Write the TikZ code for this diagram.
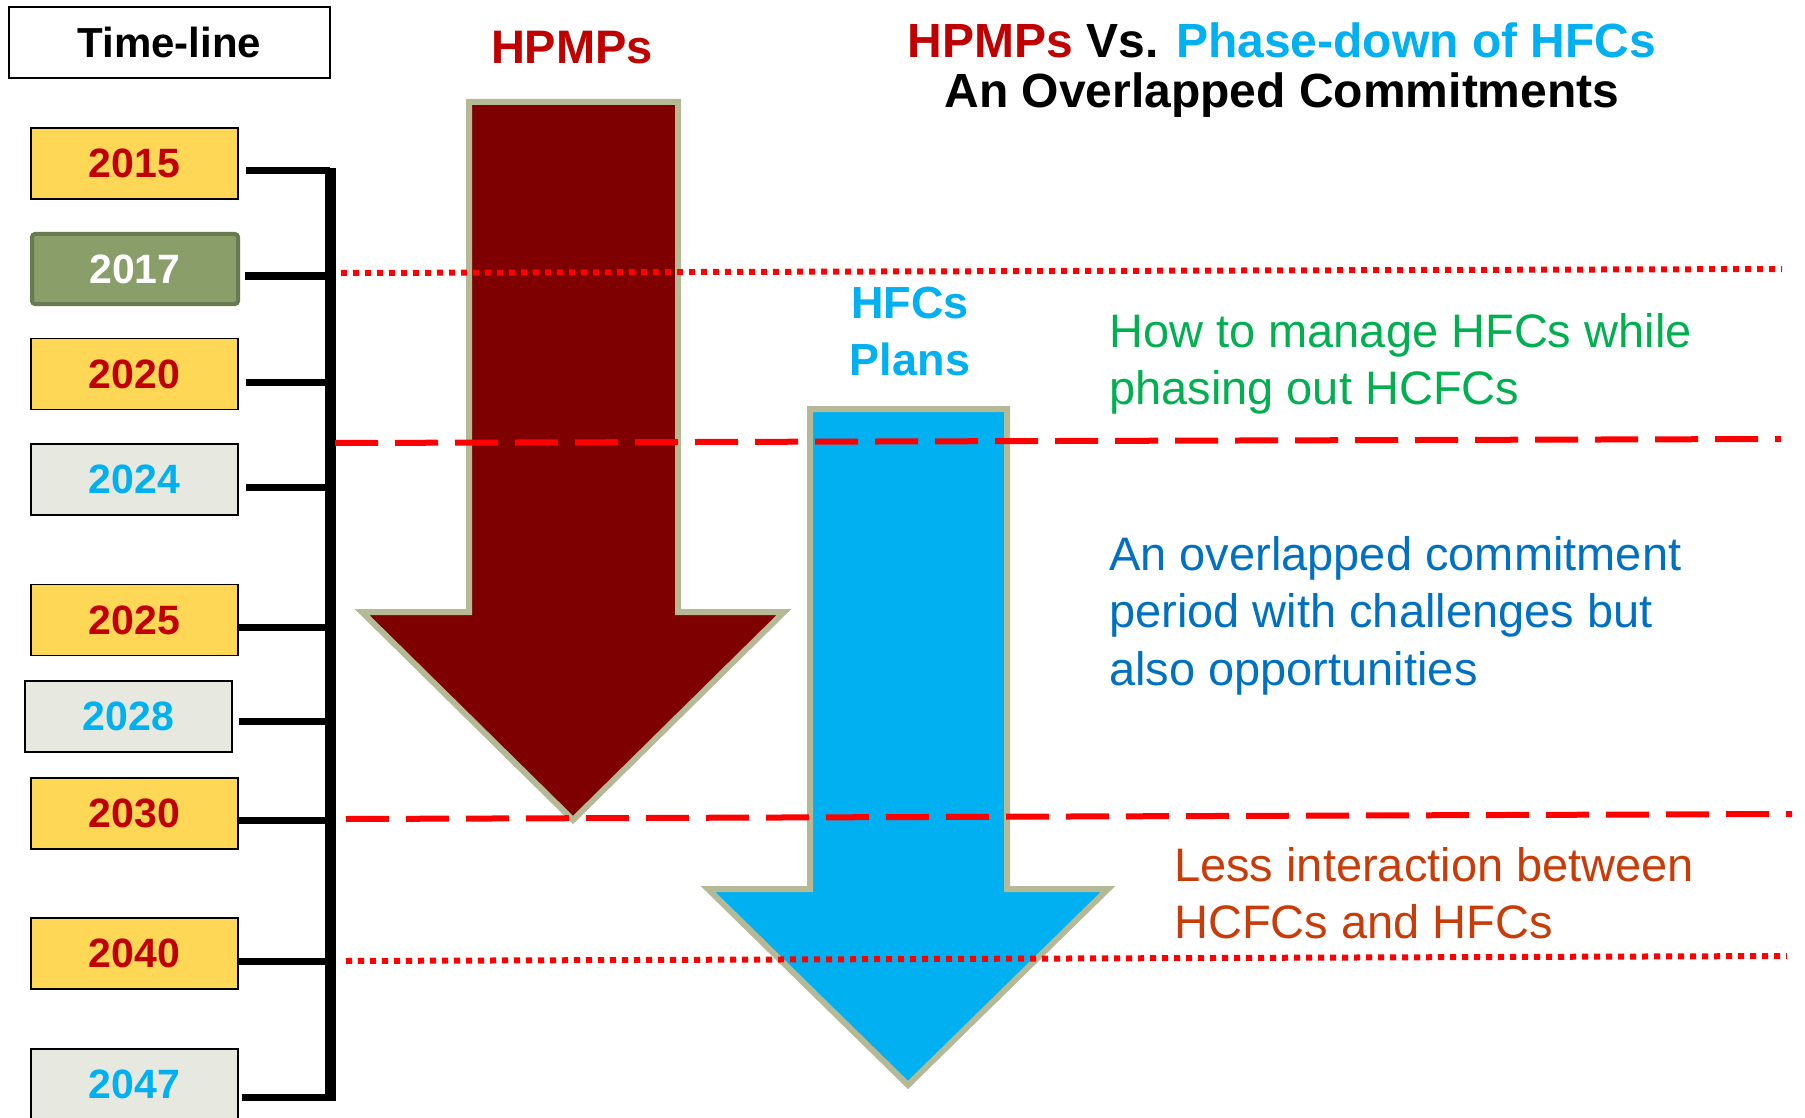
\documentclass[tikz,border=0pt]{standalone}
\usepackage{fontspec}
\setmainfont{Liberation Sans}
\usepackage{tikz}
\usetikzlibrary{calc}
\definecolor{yeargold}{RGB}{255,215,87}
\definecolor{yearred}{RGB}{192,0,0}
\definecolor{yeargrey}{RGB}{231,233,224}
\definecolor{hfcblue}{RGB}{0,176,240}
\definecolor{kigalifill}{RGB}{138,158,106}
\definecolor{kigaliedge}{RGB}{104,122,80}
\definecolor{hpmpfill}{RGB}{127,0,0}
\definecolor{arrowedge}{RGB}{182,185,150}
\definecolor{notegreen}{RGB}{0,176,80}
\definecolor{noteblue}{RGB}{0,112,192}
\definecolor{noteorange}{RGB}{200,60,10}
\tikzset{
  yearbox/.style={draw=black, line width=1.5pt, minimum width=207pt, minimum height=71pt,
    inner sep=0pt, font=\fontsize{41}{49}\selectfont\bfseries},
  hpmp/.style={fill=yeargold, text=yearred},
  hfc/.style={fill=yeargrey, text=hfcblue},
  kigali/.style={fill=kigalifill, draw=kigaliedge, line width=4pt, minimum width=206pt,
    minimum height=70pt, rounded corners=3pt, text=white},
  tickline/.style={line width=7pt},
  dotline/.style={red, line width=6pt, dash pattern=on 6pt off 6pt},
  dashline/.style={red, line width=6pt, dash pattern=on 43pt off 17pt},
  bigarrow/.style={draw=arrowedge, line width=6pt, line join=miter},
  note/.style={anchor=base west, align=left, inner sep=0pt, font=\fontsize{47}{57.5}\selectfont}
}
\begin{document}
\begin{tikzpicture}[x=1pt, y=-1pt]
\useasboundingbox (0,0) rectangle (1805,1118);
\node[draw=black, line width=1.5pt, minimum width=321pt, minimum height=71pt, inner sep=0pt,
  font=\fontsize{42}{50}\selectfont\bfseries] (timeline) at (169.5,42.5) {Time-line};
\node[anchor=base, inner sep=0pt, text=yearred, font=\fontsize{47}{56}\selectfont\bfseries] (hpmps) at (572,64) {HPMPs};
\node[anchor=base, align=center, inner sep=0pt, font=\fontsize{48}{50.5}\selectfont\bfseries] (title) at (1282,108)
  {\textcolor{yearred}{HPMPs} Vs. \textcolor{hfcblue}{Phase-down of HFCs}\\An Overlapped Commitments};
\node[anchor=base, align=center, inner sep=0pt, text=hfcblue, font=\fontsize{45}{57}\selectfont\bfseries] (hfcplans) at (910,375) {HFCs\\Plans};

\fill[hpmpfill] (469,102) -- (678,102) -- (678,612) -- (784,612) -- (573,820) -- (362,612) -- (469,612) -- cycle;
\draw[bigarrow] (469,102) -- (678,102) -- (678,612) -- (784,612) -- (573,820) -- (362,612) -- (469,612) -- cycle;
\fill[hfcblue] (810,409) -- (1007,409) -- (1007,889) -- (1108,889) -- (908,1085) -- (708,889) -- (810,889) -- cycle;
\draw[bigarrow] (810,409) -- (1007,409) -- (1007,889) -- (1108,889) -- (908,1085) -- (708,889) -- (810,889) -- cycle;

\foreach \yr/\cx/\cy/\ty/\gap/\sty in {2015/134.5/163.5/171/7/hpmp, 2017/135/269/276/5/kigali,
  2020/134.5/374/382/7/hpmp, 2024/134.5/479.5/487/7/hfc, 2025/134.5/620/627/0/hpmp,
  2028/128.5/716.5/721/6/hfc, 2030/134.5/813.5/820/0/hpmp, 2040/134.5/953.5/961/0/hpmp,
  2047/134.5/1084.5/1097/3/hfc}{
  \node[yearbox, \sty] (y\yr) at (\cx,\cy) {\yr};
  \coordinate (t\yr) at (330,\ty);
  \draw[tickline] ([xshift=\gap pt]y\yr.east |- t\yr) -- (t\yr);
}
\draw[line width=11pt] ([yshift=3pt]t2015) -- ([yshift=-4pt]t2047);

\foreach \nm/\sty/\xa/\ya/\xb/\yb in {l2017/dotline/341/273/1782/269, l2024/dashline/335/443/1781/439,
  l2030/dashline/346/819/1792/814, l2040/dotline/346/961/1787/956}{
  \coordinate (\nm s) at (\xa,\ya);
  \coordinate (\nm e) at (\xb,\yb);
  \draw[\sty] (\nm s) -- (\nm e);
}

\node[note, text=notegreen] (manage) at (1109,404.5) {How to manage HFCs while\\phasing out HCFCs};
\node[note, text=noteblue] (overlap) at (1109,685) {An overlapped commitment\\period with challenges but\\also opportunities};
\node[note, text=noteorange] (less) at (1174,938.5) {Less interaction between\\HCFCs and HFCs};
\end{tikzpicture}
\end{document}
